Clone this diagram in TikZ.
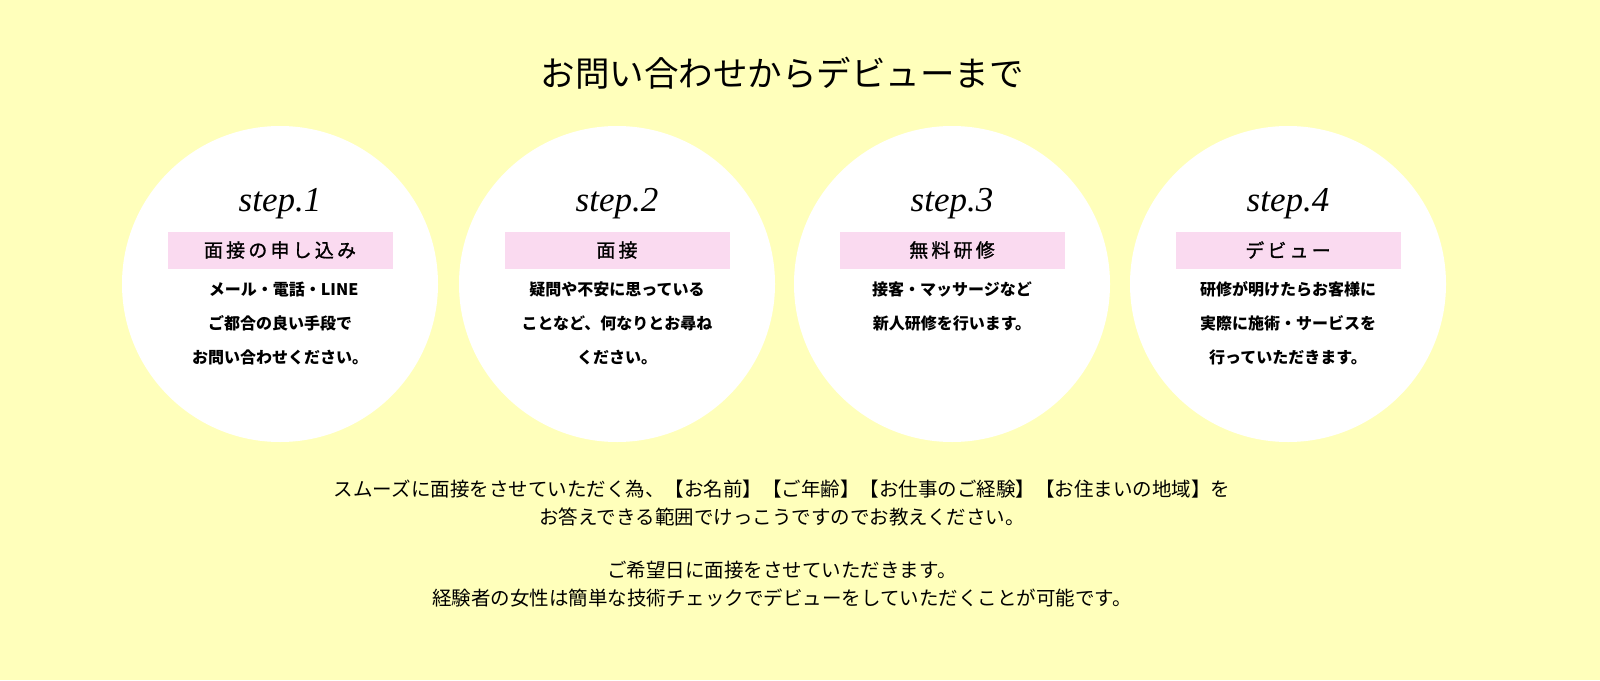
\documentclass[tikz,border=0pt]{standalone}
\usepackage{fontspec}
\setmainfont{Noto Sans CJK JP}
\newfontfamily\stepfont{Liberation Serif}
\newfontfamily\medfont[FakeBold=1.2]{Noto Sans CJK JP}
\definecolor{bg}{HTML}{FFFFBB}
\definecolor{pinkbox}{HTML}{FADAF0}
\begin{document}
\begin{tikzpicture}[x=1pt,y=-1pt,
  circ/.style={circle,fill=white,minimum size=316pt,inner sep=0pt},
  steplabel/.style={font=\stepfont\itshape\fontsize{35}{35}\selectfont},
  pinklabel/.style={fill=pinkbox,minimum width=225pt,minimum height=37pt,inner sep=0pt,font=\medfont\fontsize{19}{19}\selectfont},
  body/.style={align=center,font=\bfseries\fontsize{16}{34}\selectfont},
  foot/.style={align=center,font=\fontsize{19.5}{28}\selectfont}]
\fill[bg] (0,0) rectangle (1600,680);
\useasboundingbox (0,0) rectangle (1600,680);
\node (title) at (782,73) {\fontsize{34.5}{34.5}\selectfont お問い合わせからデビューまで};
\foreach \i/\x/\lab/\txt in {1/280/{面\,接\,の\,申\,し\,込\,み}/{\ \ メール・電話・LINE\\ご都合の良い手段で\\お問い合わせください。},
  2/617/{面\,接}/{疑問や不安に思っている\\ことなど、何なりとお尋ね\\ください。},
  3/952/{無\,料\,研\,修}/{接客・マッサージなど\\新人研修を行います。},
  4/1288/{デ\,ビ\,ュ\,ー}/{研修が明けたらお客様に\\実際に施術・サービスを\\行っていただきます。}}{
  \node[circ] (c\i) at (\x,284) {};
  \node[steplabel] (s\i) at (\x,204) {step.\i};
  \node[pinklabel] (p\i) at (\x,250) {\lab};
  \node[body,anchor=north] (b\i) at (\x,278) {\txt};
}
\node[foot,anchor=north] (f1) at (782,476) {スムーズに面接をさせていただく為、【お名前】【ご年齢】【お仕事のご経験】【お住まいの地域】を\\お答えできる範囲でけっこうですのでお教えください。};
\node[foot,anchor=north] (f2) at (782,558) {ご希望日に面接をさせていただきます。\\経験者の女性は簡単な技術チェックでデビューをしていただくことが可能です。};
\end{tikzpicture}
\end{document}
